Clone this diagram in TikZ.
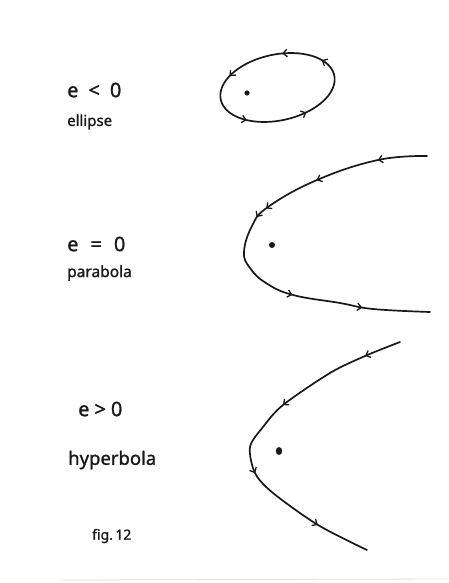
\documentclass[tikz,border=0pt]{standalone}
\usepackage{fontspec}
\setmainfont{Noto Sans}
\newfontfamily\hand{Noto Sans}[FakeBold=1.2]
\usetikzlibrary{decorations.markings,arrows.meta}
\tikzset{
  curve/.style={line width=1.7pt, draw=black!90, line cap=round, line join=round},
  lbl/.style={anchor=west, inner sep=0pt, text=black!90},
  focus/.style={fill=black!90, draw=none}
}
\newcommand{\mytip}{\arrow{Straight Barb[length=4pt,width=7.5pt,line width=1.3pt]}}
\begin{document}
\begin{tikzpicture}[x=1pt,y=-1pt]
\useasboundingbox (0,0) rectangle (448,583);
\fill[white] (0,0) rectangle (448,583);

% labels
\node[lbl, font=\hand\fontsize{20}{24}\selectfont] (elab) at (67,90) {e\hspace{0.5em}<\hspace{0.5em}0};
\node[lbl, font=\hand\fontsize{15}{18}\selectfont] (ename) at (67,122) {ellipse};
\node[lbl, font=\hand\fontsize{20}{24}\selectfont] (plab) at (67,244) {e\hspace{0.6em}=\hspace{0.6em}0};
\node[lbl, font=\hand\fontsize{15.5}{18}\selectfont] (pname) at (67,273) {parabola};
\node[lbl, font=\hand\fontsize{20}{24}\selectfont] (hlab) at (78,409) {e\hspace{0.25em}>\hspace{0.25em}0};
\node[lbl, font=\hand\fontsize{18.5}{22}\selectfont] (hname) at (68,460) {hyperbola};
\node[lbl, font=\hand\fontsize{14}{17}\selectfont] (fig) at (92,536) {fig.\,12};

% ellipse (screen counter-clockwise)
\draw[curve,
  decoration={markings,
    mark=at position 0.07 with {\mytip},
    mark=at position 0.21 with {\mytip},
    mark=at position 0.41 with {\mytip},
    mark=at position 0.62 with {\mytip},
    mark=at position 0.83 with {\mytip}},
  postaction={decorate}]
  plot[domain=0:358, samples=180, variable=\ang]
  ({277.5 + 58*cos(\ang)*cos(12) - 33*sin(\ang)*sin(12)},
   {87.5 - (58*cos(\ang)*sin(12) + 33*sin(\ang)*cos(12))}) -- cycle;
\fill[focus] (247,93) circle (2.6);

% parabola
\draw[curve,
  decoration={markings,
    mark=at position 0.115 with {\mytip},
    mark=at position 0.265 with {\mytip},
    mark=at position 0.40 with {\mytip},
    mark=at position 0.43 with {\mytip},
    mark=at position 0.677 with {\mytip},
    mark=at position 0.842 with {\mytip}},
  postaction={decorate}]
  plot[smooth, tension=0.7] coordinates {(427,156) (378,160) (317,180) (268,207) (252,226) (244,252) (250,268) (266,283) (293,295) (340,303) (373,309) (430,312)};
\fill[focus] (272,245) circle (3);

% hyperbola
\draw[curve,
  decoration={markings,
    mark=at position 0.107 with {\mytip},
    mark=at position 0.38 with {\mytip},
    mark=at position 0.61 with {\mytip},
    mark=at position 0.843 with {\mytip}},
  postaction={decorate}]
  plot[smooth, tension=0.5] coordinates {(400,342) (365,356) (330,373) (283,405) (263,427) (250,447) (255,473) (273,493) (318,525) (367,550)};
\fill[focus] (279,451) ellipse (3.2 and 4);

% faint scan edge
\draw[black!12, line width=0.8pt] (60,580) -- (448,579);
\end{tikzpicture}
\end{document}
